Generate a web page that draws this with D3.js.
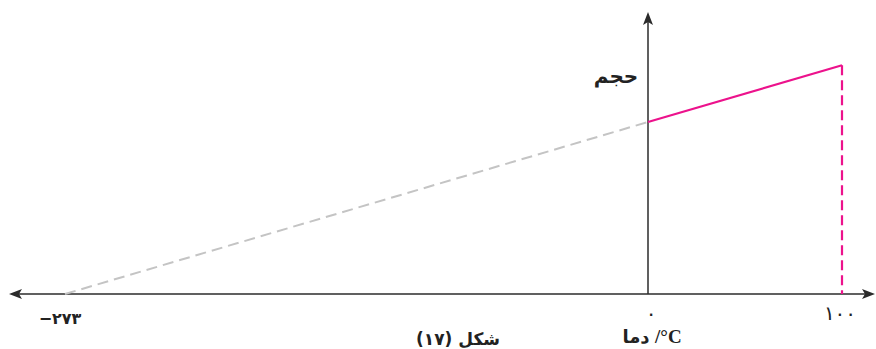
<!DOCTYPE html>
<html>
<head>
<meta charset="utf-8">
<script src="https://cdn.jsdelivr.net/npm/d3@7"></script>
<style>
  html, body { margin: 0; padding: 0; background: #fff; }
  svg { display: block; }
</style>
</head>
<body>
<div id="chart"></div>
<script>
// Charles's law: volume vs temperature, extrapolated to absolute zero
const temps = [-273, 0, 100];          // °C
const volumes = [0, 1, 1.33];           // relative volume
const tickTemps = [-273, 0, 100];
const tickLabels = ["−۲۷۳", "۰", "۱۰۰"];
const yTitle = "حجم";
const xTitleWord = "دما";
const xTitleUnit = "/°C";
const caption = "شکل (۱۷)";

const W = 876, H = 349;
const svg = d3.select("#chart").append("svg").attr("width", W).attr("height", H);

const x = d3.scaleLinear().domain([-273, 0, 100]).range([65, 648, 842]);
const y = d3.scaleLinear().domain([0, 1]).range([294, 122]);

const axisColor = "#2b2b2b";
const pink = "#ec128c";
const grey = "#c4c4c4";

// arrowhead shape pointing right, tip at origin
const arrowPath = "M0,0 L-13,-5 L-10,0 L-13,5 Z";

// x axis (both directions)
svg.append("line")
  .attr("x1", 12).attr("x2", 872)
  .attr("y1", y(0)).attr("y2", y(0))
  .attr("stroke", axisColor).attr("stroke-width", 1.5);
svg.append("path").attr("d", arrowPath).attr("fill", axisColor)
  .attr("transform", `translate(875,${y(0)})`);
svg.append("path").attr("d", arrowPath).attr("fill", axisColor)
  .attr("transform", `translate(9,${y(0)}) rotate(180)`);

// y axis
svg.append("line")
  .attr("x1", x(0)).attr("x2", x(0))
  .attr("y1", y(0)).attr("y2", 16)
  .attr("stroke", axisColor).attr("stroke-width", 1.5);
svg.append("path").attr("d", arrowPath).attr("fill", axisColor)
  .attr("transform", `translate(${x(0)},12) rotate(-90)`);

const pts = temps.map((t, i) => [x(t), y(volumes[i])]);
const line = d3.line();

// extrapolated part down to absolute zero
svg.append("path")
  .attr("d", line([pts[0], pts[1]]))
  .attr("fill", "none").attr("stroke", grey)
  .attr("stroke-width", 2).attr("stroke-dasharray", "11,6");

// measured part
svg.append("path")
  .attr("d", line([pts[1], pts[2]]))
  .attr("fill", "none").attr("stroke", pink)
  .attr("stroke-width", 2.2);

// drop line at 100 °C
svg.append("line")
  .attr("x1", pts[2][0]).attr("x2", pts[2][0])
  .attr("y1", pts[2][1]).attr("y2", y(0))
  .attr("stroke", pink).attr("stroke-width", 2.2)
  .attr("stroke-dasharray", "10,5");

// tick labels
const arabicFont = "'DejaVu Sans', 'Noto Sans', sans-serif";
const tickStyle = [
  { dx: -5, y: 324, size: 16, weight: "bold", spacing: 0 },
  { dx: 3, y: 320, size: 20, weight: "normal", spacing: 0 },
  { dx: -2, y: 320, size: 20, weight: "normal", spacing: 4 }
];
svg.selectAll("text.tick")
  .data(tickTemps)
  .join("text")
  .attr("class", "tick")
  .attr("x", (d, i) => x(d) + tickStyle[i].dx)
  .attr("y", (d, i) => tickStyle[i].y)
  .attr("text-anchor", "middle")
  .attr("font-family", arabicFont)
  .attr("font-weight", (d, i) => tickStyle[i].weight)
  .attr("font-size", (d, i) => tickStyle[i].size)
  .attr("letter-spacing", (d, i) => tickStyle[i].spacing)
  .attr("fill", "#222")
  .text((d, i) => tickLabels[i]);

// axis titles
svg.append("text")
  .attr("x", 616).attr("y", 83)
  .attr("text-anchor", "middle")
  .attr("font-family", arabicFont).attr("font-weight", "bold")
  .attr("font-size", 20).attr("fill", "#222")
  .text(yTitle);

svg.append("text")
  .attr("x", 636).attr("y", 343)
  .attr("text-anchor", "middle")
  .attr("font-family", arabicFont).attr("font-weight", "bold")
  .attr("font-size", 18).attr("fill", "#222")
  .text(xTitleWord);
svg.append("text")
  .attr("x", 655).attr("y", 343)
  .attr("font-family", "'Liberation Serif', serif").attr("font-weight", "bold")
  .attr("font-size", 19).attr("fill", "#222")
  .text(xTitleUnit);

svg.append("text")
  .attr("x", 458).attr("y", 345)
  .attr("text-anchor", "middle")
  .attr("direction", "rtl")
  .attr("font-family", arabicFont).attr("font-weight", "bold")
  .attr("font-size", 17).attr("fill", "#222")
  .text(caption);
</script>
</body>
</html>
